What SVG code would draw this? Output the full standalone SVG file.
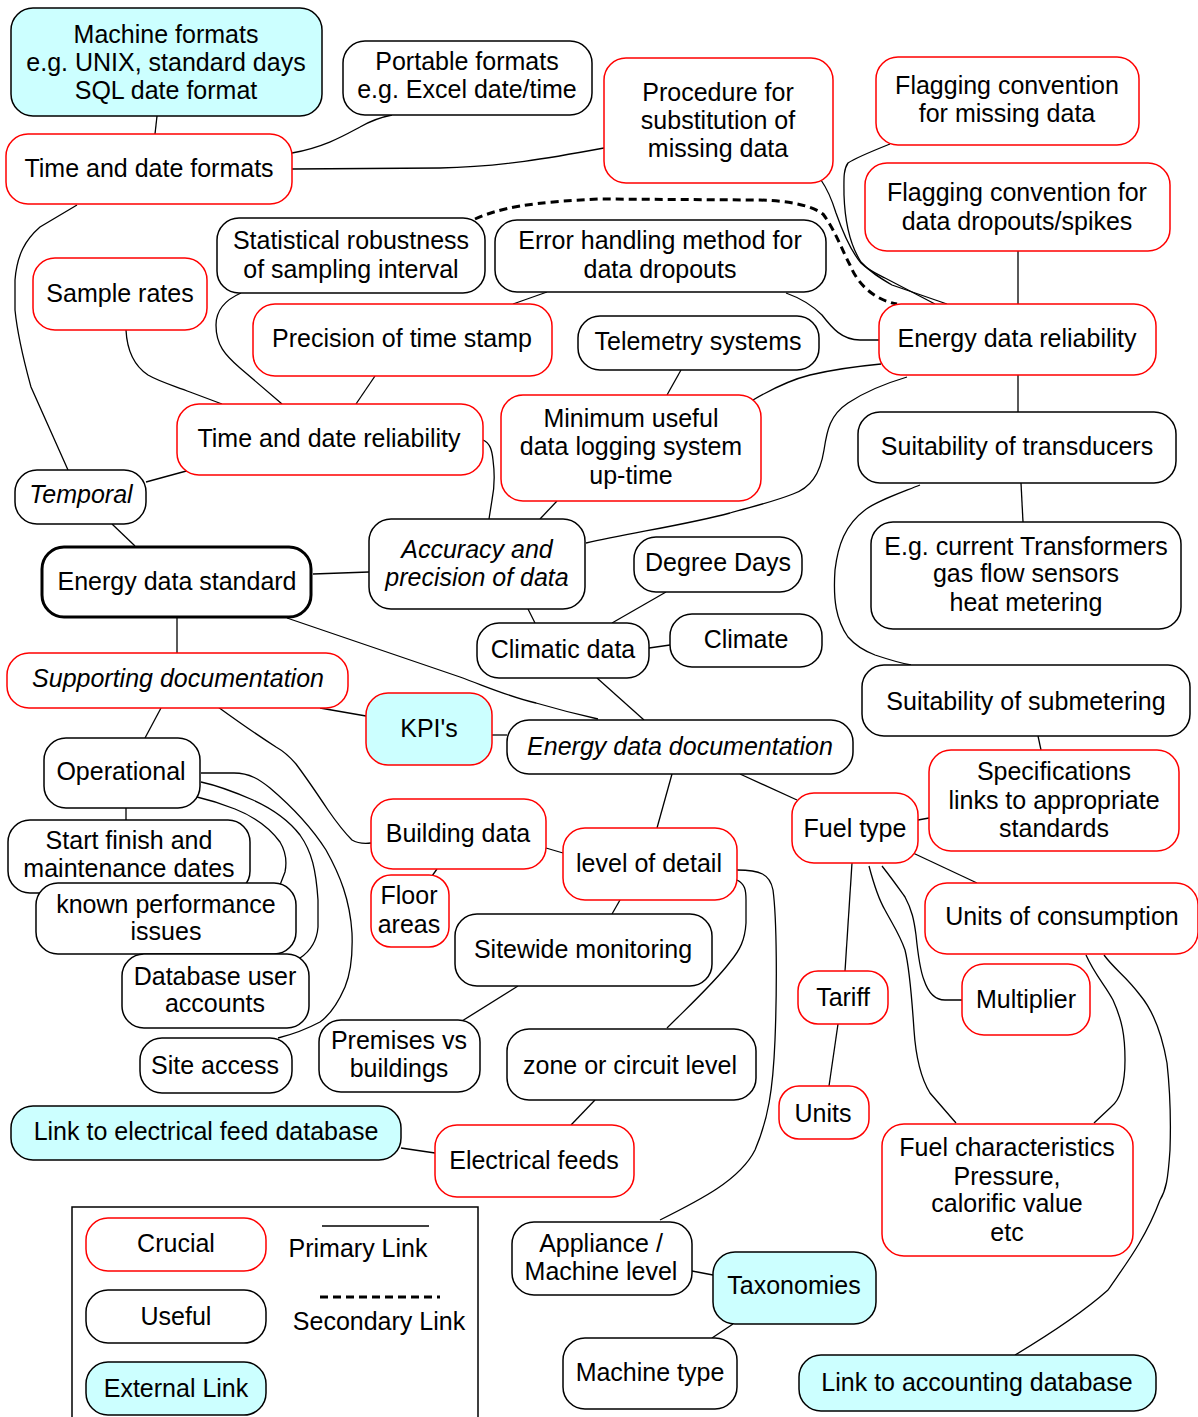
<svg xmlns="http://www.w3.org/2000/svg" width="1198" height="1417" viewBox="0 0 1198 1417">
<style>
.n rect{fill:#fff;stroke:#000;stroke-width:1.5}
.n.r rect{stroke:#f00}
.n.c rect{fill:#ccffff}
.n.k rect{stroke-width:3}
text{font-family:"Liberation Sans",Arial,sans-serif;font-size:25px;text-anchor:middle;fill:#000}
.i text{font-style:italic}
.e path{fill:none;stroke:#000;stroke-width:1.3}
.e path.d{stroke-width:3;stroke-dasharray:8,5}
</style>
<rect width="1198" height="1417" fill="#fff"/>
<g class="e" id="connectors">
<path d="M157,116 L155,134"/>
<path d="M292,153 C325,147 345,135 360,127 C372,120 382,117 392,115"/>
<path d="M292,169 L440,168 C500,167 550,158 604,148"/>
<path d="M77,205 L40,227 C25,240 17,255 15,280 L15,310 C18,340 25,365 31,387 L68,470"/>
<path class="d" d="M475,219 C500,208 530,202 600,199 L760,200 C790,201 810,205 823,214 C835,230 842,250 850,265 C858,285 875,300 897,304"/>
<path d="M241,293 C225,300 216,310 216,325 C216,345 225,355 240,368 L282,404"/>
<path d="M547,292 L513,304"/>
<path d="M786,293 C800,298 812,305 822,315 C832,328 842,340 860,340 L879,340"/>
<path d="M126,330 C127,350 133,365 148,375 C160,382 175,386 190,392 L222,404"/>
<path d="M375,376 L356,404"/>
<path d="M681,370 L667,395"/>
<path d="M753,400 C770,390 790,380 810,375 C835,369 860,366 881,364"/>
<path d="M907,377 C880,385 860,395 848,403 C830,415 827,430 824,450 C820,475 810,488 793,494 C770,503 750,507 730,513 C690,524 630,533 586,543"/>
<path d="M890,144 C870,152 855,158 848,163 C843,170 844,180 844,195 C845,225 850,245 861,262 C870,272 880,278 892,285 L947,304"/>
<path d="M821,180 C828,190 832,200 836,213 C842,230 850,250 861,263 C868,270 875,273 885,278 L935,304"/>
<path d="M1018,251 L1018,304"/>
<path d="M1018,375 L1018,412"/>
<path d="M1021,483 L1023,522"/>
<path d="M920,485 C895,495 875,502 865,510 C845,525 838,545 835,570 C833,600 836,620 848,637 C855,645 862,650 875,655 C890,660 900,663 911,665"/>
<path d="M1038,736 L1041,750"/>
<path d="M190,470 L146,482"/>
<path d="M483,440 C490,443 492,450 493,460 C495,475 494,490 492,500 L489,519"/>
<path d="M557,501 L540,519"/>
<path d="M112,524 L135,546"/>
<path d="M313,574 L369,572"/>
<path d="M177,617 L177,653"/>
<path d="M287,618 L460,677 C490,688 510,697 536,703 C560,710 580,715 598,719"/>
<path d="M528,609 L535,623"/>
<path d="M666,592 L612,623"/>
<path d="M649,648 L670,645"/>
<path d="M597,678 L644,720"/>
<path d="M161,708 L145,738"/>
<path d="M320,708 L366,716"/>
<path d="M218,707 C240,723 262,738 276,747 C285,752 290,757 296,764 C308,780 318,795 328,810 C337,823 345,833 352,840 C357,843 362,844 371,843"/>
<path d="M492,735 L507,735"/>
<path d="M672,774 L657,828"/>
<path d="M740,774 L797,800"/>
<path d="M126,808 L126,820"/>
<path d="M201,773 L234,773 C250,773 260,780 270,788 C290,805 310,825 326,850 C340,875 350,900 352,933 C353,960 350,975 345,987 C338,1003 330,1015 320,1022 C305,1030 290,1035 278,1038"/>
<path d="M201,782 C215,785 230,790 253,800 C275,810 290,822 300,835 C312,852 316,870 318,900 L318,927 C317,940 312,950 300,958"/>
<path d="M197,797 C210,800 220,803 235,809 C255,817 270,828 280,842 C286,852 287,862 285,872 L280,885"/>
<path d="M546,848 L563,853"/>
<path d="M437,869 L432,876"/>
<path d="M620,900 L612,914"/>
<path d="M737,870 C760,870 770,874 773,890 C777,920 777,990 775,1040 C773,1090 768,1120 755,1150 C740,1180 700,1200 660,1220"/>
<path d="M737,880 C745,884 746,890 746,900 L746,923 C745,940 740,950 730,962 C715,982 690,1005 667,1028"/>
<path d="M518,986 L462,1021"/>
<path d="M595,1100 L571,1125"/>
<path d="M401,1148 L435,1153"/>
<path d="M692,1271 L713,1275"/>
<path d="M733,1324 L712,1338"/>
<path d="M918,820 L929,818"/>
<path d="M913,853 L977,883"/>
<path d="M852,863 L845,971"/>
<path d="M838,1024 L829,1086"/>
<path d="M882,866 C893,880 900,890 905,897 C912,910 914,920 916,935 C918,955 920,970 924,980 C928,992 935,1000 945,1000 L962,1000"/>
<path d="M869,866 C874,885 878,898 885,910 C893,925 900,935 905,950 C910,970 912,1000 914,1030 C916,1060 922,1080 930,1093 L956,1123"/>
<path d="M1086,955 C1095,975 1105,985 1113,1000 C1122,1020 1125,1035 1125,1060 C1125,1085 1120,1100 1111,1107 L1094,1123"/>
<path d="M1104,955 C1115,970 1125,975 1140,995 C1155,1013 1163,1040 1167,1063 C1170,1090 1171,1120 1170,1150 C1168,1180 1166,1190 1160,1200 C1145,1240 1125,1265 1108,1290 C1080,1315 1040,1340 1015,1355"/>
</g>
<g id="machine-formats" class="n c"><rect x="11" y="8" width="311" height="108" rx="22"/><text x="166" y="43">Machine formats</text><text x="166" y="71">e.g. UNIX, standard days</text><text x="166" y="99">SQL date format</text></g>
<g id="portable-formats" class="n"><rect x="343" y="41" width="249" height="74" rx="22"/><text x="467" y="70">Portable formats</text><text x="467" y="98">e.g. Excel date/time</text></g>
<g id="time-date-formats" class="n r"><rect x="6" y="134" width="286" height="70" rx="22"/><text x="149" y="177">Time and date formats</text></g>
<g id="procedure" class="n r"><rect x="604" y="58" width="229" height="125" rx="22"/><text x="718" y="101">Procedure for</text><text x="718" y="129">substitution of</text><text x="718" y="157">missing data</text></g>
<g id="flag-missing" class="n r"><rect x="876" y="57" width="263" height="88" rx="22"/><text x="1007" y="94">Flagging convention</text><text x="1007" y="122">for missing data</text></g>
<g id="flag-dropouts" class="n r"><rect x="865" y="163" width="305" height="88" rx="22"/><text x="1017" y="201">Flagging convention for</text><text x="1017" y="230">data dropouts/spikes</text></g>
<g id="statistical" class="n"><rect x="217" y="218" width="268" height="75" rx="22"/><text x="351" y="249">Statistical robustness</text><text x="351" y="278">of sampling interval</text></g>
<g id="error-handling" class="n"><rect x="495" y="220" width="331" height="72" rx="22"/><text x="660" y="249">Error handling method for</text><text x="660" y="278">data dropouts</text></g>
<g id="sample-rates" class="n r"><rect x="33" y="258" width="174" height="72" rx="22"/><text x="120" y="302">Sample rates</text></g>
<g id="precision" class="n r"><rect x="253" y="304" width="299" height="72" rx="22"/><text x="402" y="347">Precision of time stamp</text></g>
<g id="telemetry" class="n"><rect x="578" y="316" width="241" height="54" rx="22"/><text x="698" y="350">Telemetry systems</text></g>
<g id="energy-reliability" class="n r"><rect x="879" y="304" width="277" height="71" rx="22"/><text x="1017" y="347">Energy data reliability</text></g>
<g id="time-date-reliability" class="n r"><rect x="177" y="404" width="306" height="71" rx="22"/><text x="329" y="447">Time and date reliability</text></g>
<g id="minimum-uptime" class="n r"><rect x="501" y="395" width="260" height="106" rx="22"/><text x="631" y="427">Minimum useful</text><text x="631" y="455">data logging system</text><text x="631" y="484">up-time</text></g>
<g id="temporal" class="n i"><rect x="15" y="470" width="131" height="54" rx="22"/><text x="81" y="503">Temporal</text></g>
<g id="transducers" class="n"><rect x="858" y="412" width="318" height="71" rx="22"/><text x="1017" y="455">Suitability of transducers</text></g>
<g id="energy-standard" class="n k"><rect x="42" y="547" width="269" height="70" rx="22"/><text x="177" y="590">Energy data standard</text></g>
<g id="accuracy" class="n i"><rect x="369" y="519" width="216" height="90" rx="22"/><text x="477" y="558">Accuracy and</text><text x="477" y="586">precision of data</text></g>
<g id="degree-days" class="n"><rect x="634" y="537" width="168" height="55" rx="22"/><text x="718" y="571">Degree Days</text></g>
<g id="eg-current" class="n"><rect x="871" y="522" width="310" height="107" rx="22"/><text x="1026" y="555">E.g. current Transformers</text><text x="1026" y="582">gas flow sensors</text><text x="1026" y="611">heat metering</text></g>
<g id="climatic-data" class="n"><rect x="477" y="623" width="172" height="55" rx="22"/><text x="563" y="658">Climatic data</text></g>
<g id="climate" class="n"><rect x="670" y="614" width="152" height="53" rx="22"/><text x="746" y="648">Climate</text></g>
<g id="supporting-doc" class="n r i"><rect x="7" y="653" width="341" height="55" rx="22"/><text x="178" y="687">Supporting documentation</text></g>
<g id="submetering" class="n"><rect x="862" y="665" width="328" height="71" rx="22"/><text x="1026" y="710">Suitability of submetering</text></g>
<g id="kpis" class="n r c"><rect x="366" y="693" width="126" height="72" rx="22"/><text x="429" y="737">KPI's</text></g>
<g id="energy-doc" class="n i"><rect x="507" y="720" width="346" height="54" rx="22"/><text x="680" y="755">Energy data documentation</text></g>
<g id="operational" class="n"><rect x="44" y="738" width="156" height="70" rx="22"/><text x="121" y="780">Operational</text></g>
<g id="specifications" class="n r"><rect x="929" y="750" width="250" height="101" rx="22"/><text x="1054" y="780">Specifications</text><text x="1054" y="809">links to appropriate</text><text x="1054" y="837">standards</text></g>
<g id="building-data" class="n r"><rect x="371" y="799" width="175" height="70" rx="22"/><text x="458" y="842">Building data</text></g>
<g id="fuel-type" class="n r"><rect x="792" y="793" width="126" height="70" rx="22"/><text x="855" y="837">Fuel type</text></g>
<g id="level-detail" class="n r"><rect x="563" y="828" width="174" height="72" rx="22"/><text x="649" y="872">level of detail</text></g>
<g id="start-finish" class="n"><rect x="8" y="820" width="242" height="73" rx="22"/><text x="129" y="849">Start finish and</text><text x="129" y="877">maintenance dates</text></g>
<g id="floor-areas" class="n r"><rect x="371" y="875" width="78" height="72" rx="20"/><text x="409" y="904">Floor</text><text x="409" y="933">areas</text></g>
<g id="known-perf" class="n"><rect x="36" y="883" width="260" height="71" rx="22"/><text x="166" y="913">known performance</text><text x="166" y="940">issues</text></g>
<g id="units-consumption" class="n r"><rect x="925" y="883" width="273" height="71" rx="22"/><text x="1062" y="925">Units of consumption</text></g>
<g id="sitewide" class="n"><rect x="455" y="914" width="257" height="72" rx="22"/><text x="583" y="958">Sitewide monitoring</text></g>
<g id="database-users" class="n"><rect x="122" y="954" width="187" height="74" rx="22"/><text x="215" y="985">Database user</text><text x="215" y="1012">accounts</text></g>
<g id="tariff" class="n r"><rect x="798" y="971" width="90" height="53" rx="20"/><text x="843" y="1006">Tariff</text></g>
<g id="multiplier" class="n r"><rect x="962" y="964" width="128" height="71" rx="22"/><text x="1026" y="1008">Multiplier</text></g>
<g id="premises" class="n"><rect x="319" y="1020" width="161" height="72" rx="22"/><text x="399" y="1049">Premises vs</text><text x="399" y="1077">buildings</text></g>
<g id="zone-circuit" class="n"><rect x="507" y="1029" width="249" height="71" rx="22"/><text x="630" y="1074">zone or circuit level</text></g>
<g id="site-access" class="n"><rect x="140" y="1038" width="152" height="55" rx="22"/><text x="215" y="1074">Site access</text></g>
<g id="units" class="n r"><rect x="779" y="1086" width="90" height="53" rx="20"/><text x="823" y="1122">Units</text></g>
<g id="fuel-char" class="n r"><rect x="882" y="1124" width="251" height="132" rx="22"/><text x="1007" y="1156">Fuel characteristics</text><text x="1007" y="1185">Pressure,</text><text x="1007" y="1212">calorific value</text><text x="1007" y="1241">etc</text></g>
<g id="link-electrical" class="n c"><rect x="11" y="1106" width="390" height="54" rx="22"/><text x="206" y="1140">Link to electrical feed database</text></g>
<g id="electrical-feeds" class="n r"><rect x="435" y="1125" width="199" height="72" rx="22"/><text x="534" y="1169">Electrical feeds</text></g>
<g id="appliance" class="n"><rect x="512" y="1222" width="180" height="73" rx="22"/><text x="601" y="1252">Appliance /</text><text x="601" y="1280">Machine level</text></g>
<g id="taxonomies" class="n c"><rect x="713" y="1252" width="163" height="72" rx="22"/><text x="794" y="1294">Taxonomies</text></g>
<g id="machine-type" class="n"><rect x="563" y="1338" width="174" height="71" rx="22"/><text x="650" y="1381">Machine type</text></g>
<g id="link-accounting" class="n c"><rect x="799" y="1355" width="357" height="56" rx="22"/><text x="977" y="1391">Link to accounting database</text></g>
<g id="legend">
<path d="M72,1419 L72,1207 L478,1207 L478,1419" fill="none" stroke="#000" stroke-width="1.5"/>
<g class="n r"><rect x="86" y="1218" width="180" height="53" rx="22"/><text x="176" y="1252">Crucial</text></g>
<g class="n"><rect x="86" y="1290" width="180" height="53" rx="22"/><text x="176" y="1325">Useful</text></g>
<g class="n c"><rect x="86" y="1362" width="180" height="53" rx="22"/><text x="176" y="1397">External Link</text></g>
<path d="M322,1226 L429,1226" stroke="#000" stroke-width="1.5"/>
<text x="358" y="1257">Primary Link</text>
<path d="M320,1297 L440,1297" stroke="#000" stroke-width="3" stroke-dasharray="8,5"/>
<text x="379" y="1330">Secondary Link</text>
</g>
</svg>
